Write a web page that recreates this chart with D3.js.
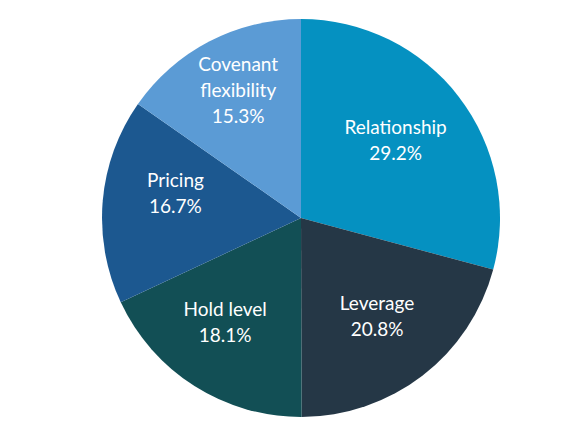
<!DOCTYPE html>
<html>
<head>
<meta charset="utf-8">
<script src="https://cdn.jsdelivr.net/npm/d3@7"></script>
<style>
  body { margin: 0; background: #fff; }
  text { font-family: Lato, "Noto Sans", sans-serif; }
</style>
</head>
<body>
<script>
// slice data, clockwise from 12 o'clock
var labels = [["Relationship"], ["Leverage"], ["Hold level"], ["Pricing"], ["Covenant", "flexibility"]];
var values = [29.2, 20.8, 18.1, 16.7, 15.3];
var colors = ["#0591c1", "#253746", "#124f55", "#1c5890", "#5b9bd5"];

var width = 580,
    height = 435;

var svg = d3.select("body")
    .append("svg")
    .attr("width", width)
    .attr("height", height);

var cx = 301, cy = 218, radius = 199;

var g = svg.append("g")
    .attr("transform", "translate(" + cx + "," + cy + ")");

var pie = d3.pie().sort(null).value(function(d){ return d; });
var arc = d3.arc().innerRadius(0).outerRadius(radius);
var labelArc = d3.arc().innerRadius(123).outerRadius(123);
// small nudges so labels sit where the original put them
var nudge = [[-3, -3], [1, 1], [-10, 0], [-3, -14], [-6, -19]];

var arcs = pie(values);

g.selectAll("path")
    .data(arcs)
    .enter()
    .append("path")
    .attr("d", arc)
    .attr("fill", function(d, i){ return colors[i]; });

var lineH = 26;
var lbl = g.selectAll(".lbl")
    .data(arcs)
    .enter()
    .append("text")
    .attr("class", "lbl")
    .attr("text-anchor", "middle")
    .attr("fill", "#fff")
    .attr("font-size", 19)
    .attr("transform", function(d, i){
        var c = labelArc.centroid(d);
        return "translate(" + (c[0] + nudge[i][0]) + "," + (c[1] + nudge[i][1]) + ")";
    });

lbl.each(function(d, i){
    var lines = labels[i].concat([values[i].toFixed(1) + "%"]);
    var t = d3.select(this);
    var y0 = -(lines.length - 1) * lineH / 2 + 7;
    lines.forEach(function(s, k){
        t.append("tspan").attr("x", 0).attr("y", y0 + k * lineH).text(s);
    });
});
</script>
</body>
</html>
